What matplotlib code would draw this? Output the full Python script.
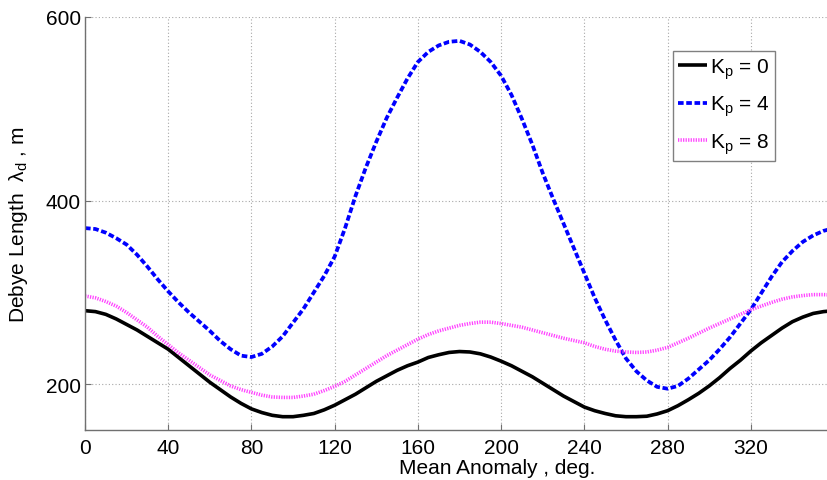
import numpy as np
import matplotlib
matplotlib.use("Agg")
import matplotlib.pyplot as plt

plt.rcParams['font.family'] = ['Liberation Sans', 'DejaVu Sans']
plt.rcParams['mathtext.fontset'] = 'custom'
plt.rcParams['mathtext.rm'] = 'Liberation Sans'
plt.rcParams['mathtext.default'] = 'regular'

# mean anomaly, deg. (every 5 deg)
anomaly = list(range(0, 361, 5))

# Debye length (m) for each Kp level
kp0 = [280, 279, 276, 271, 265, 259, 252, 245, 238, 229, 220, 211, 202, 194, 186, 179, 173, 169, 166,
       164.5, 164.5, 166, 168, 172, 177, 183, 189, 196, 203, 209, 215, 220, 224, 229, 232, 234.5, 235.5,
       235, 233, 229.5, 225, 220, 214, 208, 201, 194, 187, 181, 175, 171, 168, 165.5, 164.5, 164.5, 165,
       167.5, 171, 176.5, 183, 190, 198, 207, 217, 226, 236, 245, 253, 261, 268, 273, 277, 279, 280]
kp4 = [370, 369, 365, 359, 352, 341, 328, 314, 301, 289, 278, 268, 258, 247, 238, 231, 229.5, 233, 241,
       252, 267, 282, 300, 318, 339, 370, 405, 436, 464, 490, 512, 533, 551, 562, 569, 573, 574,
       570, 562, 551, 536, 515, 489, 461, 430, 402, 375, 348, 321, 294, 270, 248, 228, 214, 204,
       197, 195, 198, 206, 216, 226, 238, 251, 266, 281, 299, 317, 333, 345, 355, 362, 367, 370]
kp8 = [296, 294, 290, 285, 278, 270, 262, 252, 243, 234, 226, 218, 210, 204, 198, 194, 191, 188, 186,
       185.5, 185.5, 187, 189, 193, 197.5, 203, 210, 217, 224, 231, 237, 243, 249, 254, 258, 261, 264,
       266, 267.5, 267.5, 266, 264, 262, 259, 256, 253, 250, 247.5, 245, 241, 238, 236, 235, 234.5, 235,
       237, 240, 245, 250, 255.5, 261, 266, 271, 276, 281, 285, 289, 292.5, 295, 296.5, 297.5, 297.5, 297]

xticks = [0, 40, 80, 120, 160, 200, 240, 280, 320]
yticks = [200, 400, 600]

fig = plt.figure(figsize=(8.27, 4.81), dpi=100)
ax = fig.add_axes([85 / 827, 50 / 481, 749 / 827, 413 / 481])

ax.plot(anomaly, kp0, color='black', lw=2.6, solid_capstyle='butt', label='K$_p$ = 0')
ax.plot(anomaly, kp4, color='#0000ff', lw=2.7, linestyle=(0, (1.5, 0.7)), label='K$_p$ = 4')
ax.plot(anomaly, kp8, color='#ff44ff', lw=2.6, linestyle=(0, (0.35, 0.35)), label='K$_p$ = 8')

ax.set_xlim(0, 360)
ax.set_ylim(150, 600)
ax.set_xticks(xticks)
ax.set_yticks(yticks)
ax.grid(True, linestyle=(0, (1, 2)), color='#a8a8a8', lw=0.8)

for side in ['top', 'right']:
    ax.spines[side].set_visible(False)
for side in ['left', 'bottom']:
    ax.spines[side].set_color('#707070')
    ax.spines[side].set_linewidth(1.0)

ax.tick_params(direction='in', length=4, width=0.8, colors='#707070', labelcolor='black', labelsize=15)
ax.tick_params(axis='x', pad=6)
ax.tick_params(axis='y', pad=3)

ax.set_xlabel('Mean Anomaly , deg.', fontsize=15)
ax.xaxis.set_label_coords(0.55, -0.068)
ax.set_ylabel('Debye Length  $\\lambda_{d}$ , m', fontsize=15)
ax.yaxis.set_label_coords(-0.074, 0.5)

leg = ax.legend(loc='upper left', bbox_to_anchor=(673 / 827, 1 - 52 / 481), bbox_transform=fig.transFigure,
                fontsize=15, handlelength=1.4, handletextpad=0.15, borderpad=0.25, labelspacing=0.62,
                borderaxespad=0, fancybox=False, framealpha=1)
leg.get_frame().set_edgecolor('#808080')
leg.get_frame().set_linewidth(1.0)

fig.savefig('out.png', dpi=100)
